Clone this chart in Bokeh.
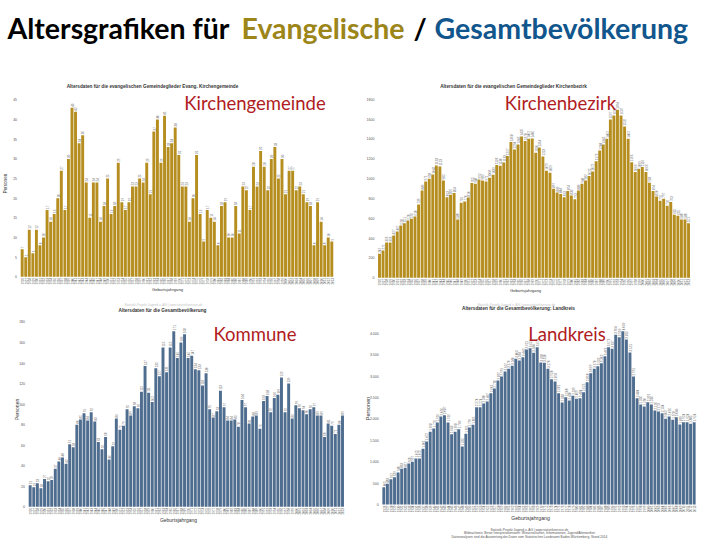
from math import pi
from bokeh.plotting import figure
from bokeh.core.properties import value
from bokeh.models import ColumnDataSource, Range1d, Label, FixedTicker
from bokeh.layouts import column, row
from bokeh.embed import file_html
from bokeh.resources import INLINE

years = [str(y) for y in range(1926, 2014)]

kirchengemeinde = [7, 5, 12, 6, 12, 8, 10, 17, 14, 16, 20, 27, 17, 30, 43, 42, 34, 36, 24, 15, 24, 24, 14, 18, 25, 16, 18, 29, 19, 17, 19, 23, 23, 25, 24, 29, 21, 37, 40, 29, 41, 33, 34, 38, 31, 23, 23, 14, 20, 31, 16, 9, 17, 15, 14, 8, 18, 19, 10, 10, 18, 11, 23, 22, 17, 28, 23, 32, 28, 22, 30, 33, 25, 30, 21, 27, 27, 22, 23, 21, 19, 18, 8, 19, 14, 8, 10, 9]
kirchenbezirk = [242, 275, 356, 356, 427, 467, 528, 551, 578, 595, 618, 739, 880, 971, 998, 1042, 1133, 1123, 982, 813, 837, 854, 588, 756, 770, 810, 955, 948, 992, 982, 971, 1008, 1039, 1136, 1130, 1163, 1227, 1368, 1294, 1345, 1425, 1378, 1402, 1405, 1260, 1314, 1223, 1079, 1059, 897, 860, 844, 813, 874, 830, 793, 880, 948, 982, 1025, 1072, 1176, 1284, 1345, 1402, 1597, 1637, 1694, 1637, 1526, 1402, 1166, 1066, 1099, 1116, 1066, 958, 874, 820, 776, 797, 726, 763, 635, 625, 588, 588, 551]
kommune = [21, 19, 23, 18, 27, 25, 26, 37, 44, 48, 42, 61, 58, 80, 85, 91, 84, 92, 83, 63, 56, 68, 46, 59, 86, 75, 79, 95, 89, 98, 96, 112, 137, 111, 102, 135, 127, 155, 131, 155, 171, 145, 160, 168, 145, 147, 134, 133, 118, 130, 95, 87, 93, 113, 97, 84, 84, 85, 78, 104, 97, 81, 88, 89, 76, 103, 108, 92, 106, 109, 126, 92, 120, 86, 99, 96, 94, 90, 95, 97, 89, 89, 68, 81, 79, 71, 80, 89]
landkreis = [405, 483, 592, 639, 748, 833, 857, 958, 997, 1075, 1075, 1301, 1472, 1698, 1776, 1916, 2056, 2087, 1916, 1643, 1698, 1760, 1355, 1651, 1799, 1861, 2274, 2274, 2360, 2407, 2601, 2710, 2897, 2991, 3107, 3170, 3240, 3403, 3364, 3442, 3621, 3653, 3544, 3676, 3318, 3310, 3170, 2928, 2874, 2601, 2383, 2508, 2430, 2539, 2469, 2484, 2625, 2858, 3069, 3170, 3232, 3302, 3466, 3676, 3637, 3964, 3910, 4050, 3855, 3551, 2991, 2484, 2336, 2290, 2391, 2336, 2196, 2173, 2134, 2002, 2056, 1978, 2040, 1869, 1924, 1924, 1885, 1924]

ticks_kg = list(range(0, 50, 5))
ticks_kb = list(range(0, 2000, 200))
ticks_ko = list(range(0, 200, 20))
ticks_lk = list(range(0, 4500, 500))

title_text = ["Altersgrafiken für", "Evangelische", "/", "Gesamtbevölkerung"]
title_colors = ["#000000", "#9c8519", "#000000", "#11568c"]
title_x = [7, 241, 413, 434]

GOLD = "#b58e1f"
BLUE = "#4f6d8f"
RED = "#b01c22"
FOOT = ["Statistik-Projekt Jugend u. AG | www.statistikservice.de",
        "Bildnachweis: Bevor Interpretationswert: Wissenschaften, Informationen, Jugend/Altenwelten",
        "Datenanalysen sind die Auswertung der Daten vom Statistischen Landesamt Baden-Württemberg, Stand 2014"]


def lab(p, px, py, text, size, color="#333333", style="normal", angle=0.0, font="Liberation Sans"):
    x0, y0, h = p.tags
    p.add_layout(Label(x=px - x0, y=h - (py - y0), x_units="screen", y_units="screen", text=text,
                       text_font=font, text_font_size=f"{size}px", text_color=color, text_font_style=style,
                       text_align="center", text_baseline="middle", angle=angle))


def panel(values, ticks, color, c0, pitch, base, scale, x0, y0, h, overrides=None, fmt=str):
    w = 360
    idx = list(range(len(values)))
    p = figure(x_range=Range1d(-c0 / pitch, (w - c0) / pitch),
               y_range=Range1d(-(h - base) / scale, base / scale), width=w, height=h,
               min_border=0, output_backend="svg", toolbar_location=None)
    p.tags = [x0, y0, h]
    src = ColumnDataSource(dict(x=idx, y=values, t=[fmt(v) for v in values]))
    p.vbar(x="x", top="y", source=src, width=0.82, color=color, line_color=None)
    p.text(x="x", y="y", text="t", source=src, angle=pi / 2, text_font=value("Liberation Sans"),
           text_font_size="3px", text_color="#666666", text_align="left", text_baseline="middle", y_offset=-1)
    p.outline_line_color = None
    p.grid.visible = False
    for ax in (p.xaxis, p.yaxis):
        ax.axis_line_color = None
        ax.major_tick_line_color = None
        ax.minor_tick_line_color = None
        ax.major_tick_out = 0
        ax.major_tick_in = 0
        ax.major_label_text_font = "Liberation Sans"
        ax.major_label_text_color = "#555555"
    p.xaxis.fixed_location = 0
    p.yaxis.fixed_location = -0.6
    p.xaxis.ticker = FixedTicker(ticks=idx)
    p.xaxis.major_label_overrides = dict(zip(idx, years))
    p.yaxis.ticker = FixedTicker(ticks=ticks)
    if overrides:
        p.yaxis.major_label_overrides = overrides
    p.yaxis.major_label_text_font_size = "3.5px"
    p.yaxis.major_label_standoff = 3
    p.xaxis.major_label_text_font_size = "3px"
    p.xaxis.major_label_orientation = pi / 2
    p.xaxis.major_label_standoff = 1
    return p


def dotted(v):
    return f"{v:,}".replace(",", ".")


fmt_lk = {v: dotted(v) for v in ticks_lk}

head = figure(x_range=Range1d(0, 720), y_range=Range1d(70, 0), width=720, height=70, min_border=0,
              output_backend="svg", toolbar_location=None, outline_line_color=None)
head.axis.visible = False
head.grid.visible = False
head.text(x=title_x, y=[27] * 4, text=title_text, text_color=title_colors, text_font=value("Lato"),
          text_font_style="bold", text_font_size="28.5px", text_baseline="middle")

p1 = panel(kirchengemeinde, ticks_kg, GOLD, 21.67, 3.559, 206.3, 3.93, 0, 70, 230)
p2 = panel(kirchenbezirk, ticks_kb, GOLD, 19, 3.552, 207.3, 0.0992, 360, 70, 230)
p3 = panel(kommune, ticks_ko, BLUE, 29.67, 3.59, 206.3, 1.027, 0, 300, 240)
p4 = panel(landkreis, ticks_lk, BLUE, 23.33, 3.567, 204, 0.0428, 360, 300, 240, overrides=fmt_lk, fmt=dotted)

lab(p1, 152, 86, "Altersdaten für die evangelischen Gemeindeglieder Evang. Kirchengemeinde", 4.7, style="bold")
lab(p2, 513, 86, "Altersdaten für die evangelischen Gemeindeglieder Kirchenbezirk", 4.7, style="bold")
lab(p3, 162, 310, "Altersdaten für die Gesamtbevölkerung", 4.7, style="bold")
lab(p4, 518, 308, "Altersdaten für die Gesamtbevölkerung: Landkreis", 4.7, style="bold")

lab(p1, 254.5, 102, "Kirchengemeinde", 18.5, RED, font="Lato")
lab(p2, 560, 102, "Kirchenbezirk", 18.5, RED, font="Lato")
lab(p3, 254.5, 333, "Kommune", 18.5, RED, font="Lato")
lab(p4, 566.5, 333, "Landkreis", 18.5, RED, font="Lato")

lab(p1, 5, 183, "Personen", 4.5, angle=pi / 2)
lab(p3, 16, 409, "Personen", 5, angle=pi / 2)
lab(p4, 367, 408, "Personen", 5.5, angle=pi / 2)

lab(p1, 167, 289, "Geburtsjahrgang", 4.2)
lab(p2, 525, 290, "Geburtsjahrgang", 4.2)
lab(p3, 178, 519, "Geburtsjahrgang", 5)
lab(p4, 530, 517, "Geburtsjahrgang", 5.2)

lab(p3, 163, 304, FOOT[0], 3.2, "#c4c4c4")
lab(p4, 516, 304, FOOT[0], 3.2, "#c4c4c4")
lab(p4, 529, 529, FOOT[0], 3.2, "#555555")
lab(p4, 529, 532.5, FOOT[1], 3.2, "#555555")
lab(p4, 529, 536, FOOT[2], 3.2, "#555555")

page = column(head, row(p1, p2, spacing=0), row(p3, p4, spacing=0), spacing=0)
open("out.html", "w").write(file_html(page, INLINE))
